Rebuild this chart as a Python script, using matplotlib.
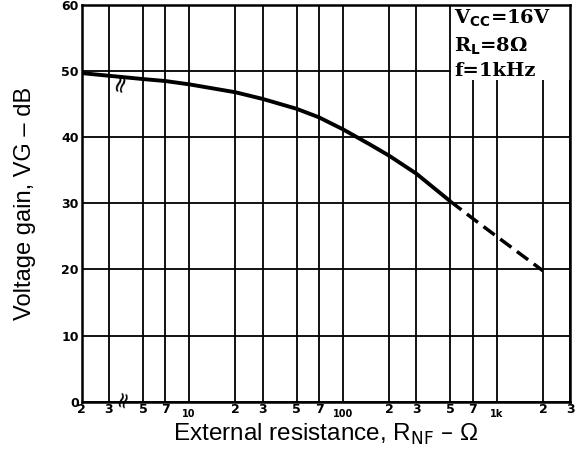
"""Voltage gain vs external resistance"""

import matplotlib
matplotlib.use("Agg")
import matplotlib.pyplot as plt
from matplotlib.ticker import FixedLocator, FixedFormatter

# curve (R_NF in ohm, gain in dB)
r_solid = [2, 3, 5, 7, 10, 20, 30, 50, 70, 100, 150, 200, 300, 500]
gain_solid = [49.7, 49.3, 48.8, 48.5, 48.0, 46.8, 45.8, 44.3, 43.0, 41.2, 38.9, 37.2, 34.5, 30.3]
r_dash = [500, 700, 1000, 2000]
gain_dash = [30.3, 27.7, 25.0, 19.8]

# axis ticks
x_major = [2, 3, 5, 7, 20, 30, 50, 70, 200, 300, 500, 700, 2000, 3000]
x_major_labels = ["2", "3", "5", "7", "2", "3", "5", "7", "2", "3", "5", "7", "2", "3"]
x_decades = [10, 100, 1000]
x_decade_labels = ["10", "100", "1k"]
y_ticks = [0, 10, 20, 30, 40, 50, 60]

conditions = "V$_{\\mathbf{CC}}$=16V\nR$_{\\mathbf{L}}$=8\u03a9\nf=1kHz"

fig = plt.figure(figsize=(5.77, 4.5), dpi=100)
ax = fig.add_axes([0.1416, 0.1073, 0.8463, 0.8816])

ax.set_xscale("log")
ax.set_xlim(2, 3000)
ax.set_ylim(0, 60)

ax.xaxis.set_major_locator(FixedLocator(x_major))
ax.xaxis.set_major_formatter(FixedFormatter(x_major_labels))
ax.xaxis.set_minor_locator(FixedLocator(x_decades))
ax.xaxis.set_minor_formatter(FixedFormatter(x_decade_labels))
ax.set_yticks(y_ticks)

ax.tick_params(axis="x", which="major", length=0, pad=1, labelsize=9)
ax.tick_params(axis="x", which="minor", length=0, pad=5, labelsize=7)
ax.tick_params(axis="y", length=0, pad=2, labelsize=9)
for lab in ax.get_xticklabels(which="both") + ax.get_yticklabels():
    lab.set_fontweight("bold")

ax.grid(which="both", color="black", linewidth=1.3)
ax.set_axisbelow(True)
for sp in ax.spines.values():
    sp.set_linewidth(1.8)

ax.plot(r_solid, gain_solid, color="black", linewidth=2.8, solid_capstyle="butt", zorder=4)
ax.plot(r_dash, gain_dash, color="black", linewidth=2.5, linestyle=(0, (4, 2)), zorder=4)

# axis break marks
ax.text(3.6, 48.3, "\u2248", rotation=75, fontsize=18, ha="center", va="center",
        zorder=5)
ax.text(3.7, 0.5, "\u2248", rotation=75, fontsize=16, ha="center", va="center",
        clip_on=False, zorder=5)

# white patch behind the test conditions (covers the grid in the corner)
ax.axvspan(508, 3000, ymin=48.6 / 60, ymax=1, facecolor="white", edgecolor="none", zorder=2)
ax.text(530, 59.6, conditions, family="DejaVu Serif", fontweight="bold", fontsize=14,
        ha="left", va="top", linespacing=1.4, zorder=3)

ax.set_xlabel("External resistance, R$_{\\mathrm{NF}}$ \u2013 \u03a9", family="Liberation Sans",
              fontsize=17.5, labelpad=2)
ax.set_ylabel("Voltage gain, VG \u2013 dB", family="Liberation Sans", fontsize=17, labelpad=18)

plt.savefig("out.png", dpi=100)
plt.close()
